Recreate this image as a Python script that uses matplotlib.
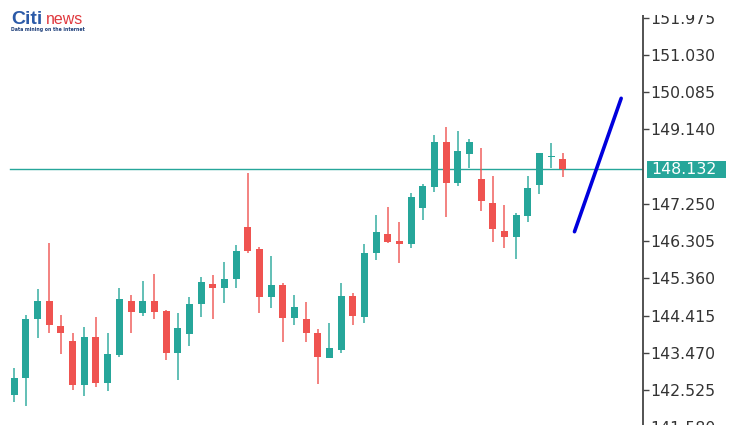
import matplotlib

matplotlib.use("Agg")
import matplotlib.pyplot as plt
from matplotlib.patches import Rectangle

# OHLC (one entry per candle, left to right)
opens = [142.399, 142.823, 144.321, 144.786, 144.158, 143.770, 142.653, 143.879, 142.711, 143.415,
         144.793, 144.488, 144.793, 144.539, 143.458, 143.948, 144.709, 145.217, 145.116, 145.344,
         146.657, 146.098, 144.879, 145.192, 144.346, 144.321, 143.966, 143.331, 143.542, 144.912,
         144.387, 146.012, 146.486, 146.316, 146.233, 147.139, 147.687, 148.830, 147.789, 148.510,
         147.883, 147.266, 146.563, 146.403, 146.943, 147.730, 148.435, 148.383]
highs = [143.077, 144.430, 145.083, 146.266, 144.430, 143.966, 144.118, 144.372, 143.966, 145.108,
         144.938, 145.301, 145.471, 144.560, 144.473, 144.895, 145.387, 145.446, 145.783, 146.207,
         148.043, 146.164, 145.936, 145.250, 144.938, 144.768, 144.067, 144.235, 145.235, 144.981,
         146.233, 146.969, 147.180, 146.799, 147.535, 147.756, 149.000, 149.195, 149.109, 148.891,
         148.662, 147.959, 147.223, 147.027, 147.959, 148.550, 148.804, 148.535]
lows = [142.229, 142.120, 143.854, 143.966, 143.440, 142.526, 142.374, 142.610, 142.501, 143.371,
        143.966, 144.405, 144.321, 143.288, 142.780, 143.643, 144.372, 144.321, 144.727, 145.108,
        146.012, 144.488, 144.615, 143.752, 144.176, 143.752, 142.678, 143.331, 143.458, 144.176,
        144.235, 145.826, 146.250, 145.743, 146.123, 146.842, 147.560, 146.910, 147.705, 148.154,
        147.078, 146.291, 146.123, 145.844, 146.799, 147.502, 148.154, 147.941]
closes = [142.823, 144.321, 144.786, 144.176, 143.966, 142.653, 143.879, 142.711, 143.440, 144.829,
          144.514, 144.793, 144.514, 143.458, 144.092, 144.709, 145.275, 145.108, 145.336, 146.063,
          146.063, 144.879, 145.192, 144.346, 144.626, 143.966, 143.371, 143.585, 144.912, 144.405,
          145.996, 146.530, 146.291, 146.233, 147.433, 147.705, 148.830, 147.789, 148.594, 148.830,
          147.332, 146.613, 146.403, 146.969, 147.647, 148.535, 148.463, 148.132]

current_price = 148.132
trend_x = [48.0, 52.0]
trend_y = [146.545, 149.931]
tick_values = [151.975, 151.030, 150.085, 149.140, 147.250, 146.305,
               145.360, 144.415, 143.470, 142.525, 141.580]

UP = "#26a69a"
DOWN = "#ef5350"
PX = 39.39  # pixels per price unit

fig = plt.figure(figsize=(7.37, 4.34), dpi=100)
ax = fig.add_axes([0, 0, 643 / 737, 1])

for i, (o, h, l, c) in enumerate(zip(opens, highs, lows, closes)):
    col = UP if c >= o else DOWN
    ax.vlines(i, l, h, color=col, linewidth=1.2, alpha=0.85, zorder=2)
    body = max(abs(c - o), 0.02)
    ax.bar(i, body, bottom=min(o, c), width=0.6, color=col, linewidth=0, zorder=3)

ax.axhline(current_price, xmin=10 / 643, color=UP, linewidth=1.0, zorder=1)
ax.plot(trend_x, trend_y, color="#0000dd", linewidth=2.6, solid_capstyle="round", zorder=4)

ax.set_xlim(-1.225, 53.87)
ax.set_ylim(152.427 - 434 / PX, 152.427)

for side in ("left", "top", "bottom"):
    ax.spines[side].set_visible(False)
ax.spines["right"].set_color("#444444")
ax.spines["right"].set_linewidth(1.3)
ax.set_xticks([])
ax.yaxis.tick_right()
ax.set_yticks(tick_values)
ax.set_yticklabels([f"{v:.3f}" for v in tick_values])
ax.tick_params(axis="y", direction="out", length=4, width=1, color="#444444",
               labelsize=11.3, labelcolor="#333333", pad=1.5)

# current price tag
tag_h = 17 / PX
ax.add_patch(Rectangle((1 + 4 / 643, current_price - tag_h / 2), 79 / 643, tag_h,
                       transform=ax.get_yaxis_transform(), facecolor=UP,
                       edgecolor="none", clip_on=False, zorder=5))
ax.text(1 + 8 / 643, current_price, f"{current_price:.3f}",
        transform=ax.get_yaxis_transform(), ha="left", va="center",
        fontsize=11.3, color="white", clip_on=False, zorder=6)

# screenshot was cropped at top/bottom
fig.add_artist(Rectangle((0, 0), 1, 9 / 434, transform=fig.transFigure,
                         facecolor="white", edgecolor="none", zorder=10))
fig.add_artist(Rectangle((0, 1 - 15 / 434), 1, 15 / 434, transform=fig.transFigure,
                         facecolor="white", edgecolor="none", zorder=10))

# logo
fig.text(11 / 737, 1 - 24 / 434, "Citi", fontsize=14, fontweight="bold",
         family="Liberation Sans", color="#2b5aa8", zorder=11)
fig.text(46 / 737, 1 - 24 / 434, "news", fontsize=11.5, family="Liberation Sans",
         color="#e0393e", zorder=11)
fig.text(11 / 737, 1 - 31 / 434, "Data mining on the internet", fontsize=3.3,
         fontweight="bold", color="#1e3f7a", zorder=11)

fig.savefig("out.png", dpi=100)
